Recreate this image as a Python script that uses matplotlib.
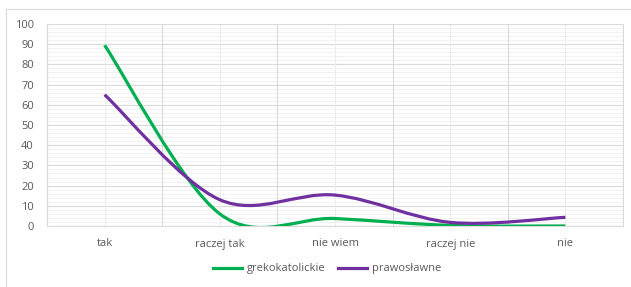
import numpy as np
import matplotlib.pyplot as plt
from matplotlib.path import Path
from matplotlib.patches import PathPatch, Rectangle
from matplotlib.lines import Line2D

categories = ["tak", "raczej tak", "nie wiem", "raczej nie", "nie"]
grekokatolickie = [89.5, 6, 3.7, 0.3, 0]
prawoslawne = [65, 13, 15.3, 1.8, 4.3]

series_names = ["grekokatolickie", "prawosławne"]
colors = ["#00b050", "#7030a0"]

plt.rcParams['font.family'] = ['Open Sans', 'DejaVu Sans']


def smooth_path(xs, ys):
    # Excel-style smoothed line: cubic bezier with catmull-rom control points
    pts = np.column_stack([xs, ys]).astype(float)
    n = len(pts)
    verts = [pts[0]]
    codes = [Path.MOVETO]
    for i in range(n - 1):
        p_prev = pts[i - 1] if i > 0 else pts[i]
        p_next2 = pts[i + 2] if i + 2 < n else pts[i + 1]
        c1 = pts[i] + (pts[i + 1] - p_prev) / 6
        c2 = pts[i + 1] - (p_next2 - pts[i]) / 6
        verts += [c1, c2, pts[i + 1]]
        codes += [Path.CURVE4] * 3
    return Path(verts, codes)


W, H = 631, 287
fig = plt.figure(figsize=(W / 100, H / 100), dpi=100)
fig.patch.set_facecolor("white")

# outer chart border
fig.patches.append(Rectangle((6 / W, -0.05), 1.0, 1 - 9 / H + 0.05,
                             transform=fig.transFigure, fill=False,
                             edgecolor="#d9d9d9", linewidth=0.8))

ax = fig.add_axes([47 / W, 1 - 226 / H, (623 - 47) / W, (226 - 24) / H])
x = np.arange(len(categories))
ax.set_xlim(-0.5, len(categories) - 0.5)
ax.set_ylim(0, 100)

# gridlines
for yv in np.arange(0, 101, 2):
    ax.axhline(yv, color="#f0f0f0", lw=0.6, zorder=0)
for yv in np.arange(0, 101, 10):
    ax.axhline(yv, color="#dadada", lw=0.8, zorder=0)
for xv in x:
    ax.axvline(xv, color="#ededed", lw=0.8, zorder=0)
for xv in np.arange(-0.5, len(categories), 1):
    ax.axvline(xv, color="#dadada", lw=0.8, zorder=0)

for vals, col in zip([grekokatolickie, prawoslawne], colors):
    ax.add_patch(PathPatch(smooth_path(x, vals), facecolor="none",
                           edgecolor=col, lw=2.3, capstyle="butt", zorder=3))

for s in ax.spines.values():
    s.set_color("#dadada")
    s.set_linewidth(0.8)

ax.set_yticks(np.arange(0, 101, 10))
ax.set_xticks(x)
ax.set_xticklabels(categories)
ax.tick_params(length=0, labelsize=8, labelcolor="#595959")
ax.tick_params(axis="x", pad=9)
ax.tick_params(axis="y", pad=9.5)

handles = [Line2D([], [], color=c, lw=2.3) for c in colors]
fig.legend(handles, series_names, loc="center", bbox_to_anchor=(327 / W, 1 - 269 / H),
           ncol=2, frameon=False, fontsize=8, labelcolor="#595959",
           handlelength=2.6, handletextpad=0.4, columnspacing=1.2)

fig.savefig("out.png", dpi=100)
